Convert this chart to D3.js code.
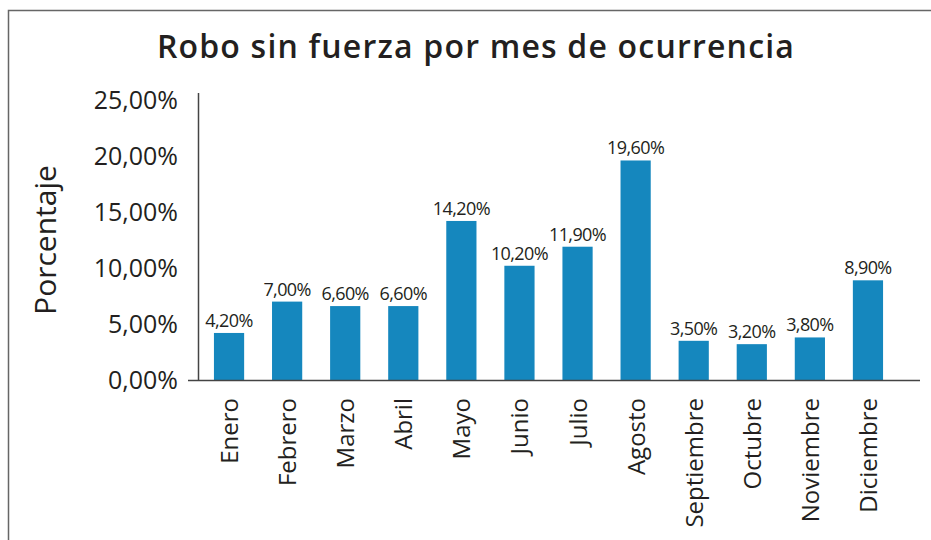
<!DOCTYPE html>
<html>
<head>
<meta charset="utf-8">
<script src="https://cdn.jsdelivr.net/npm/d3@7"></script>
<style>
  body { margin: 0; background: #fff; }
  svg text { font-family: "Open Sans", "Noto Sans", sans-serif; fill: #231f20; }
</style>
</head>
<body>
<div id="chart"></div>
<script>
var months = ['Enero','Febrero','Marzo','Abril','Mayo','Junio','Julio','Agosto','Septiembre','Octubre','Noviembre','Diciembre'];
var values = [4.2, 7.0, 6.6, 6.6, 14.2, 10.2, 11.9, 19.6, 3.5, 3.2, 3.8, 8.9];
var yTicks = [0, 5, 10, 15, 20, 25];

var width = 931, height = 540;
var barColor = '#1587be';

var svg = d3.select('#chart').append('svg')
	.attr('width', width)
	.attr('height', height);

// outer frame (cropped screenshot)
svg.append('path')
	.attr('d', 'M8.5,540 V10.5 H931')
	.attr('fill', 'none')
	.attr('stroke', '#666')
	.attr('stroke-width', 1.5);

var fmt = function(v) { return d3.format('.2f')(v).replace('.', ',') + '%'; };

var x = d3.scaleBand()
	.domain(months)
	.range([200, 897])
	.paddingInner(0.48)
	.paddingOuter(0.24);

var y = d3.scaleLinear()
	.domain([0, 25])
	.range([380, 100]);

svg.append('text')
	.attr('x', 476)
	.attr('y', 58)
	.attr('text-anchor', 'middle')
	.style('font-size', '32px')
	.style('font-weight', 600)
	.style('letter-spacing', '1.2px')
	.text('Robo sin fuerza por mes de ocurrencia');

// y axis
var yAxis = svg.append('g')
	.attr('transform', 'translate(198,0)')
	.call(d3.axisLeft(y).tickValues(yTicks).tickFormat(fmt).tickSize(0).tickPadding(20));
yAxis.select('.domain').attr('d', 'M0.5,' + (y(25) - 7) + 'V' + y(0)).attr('stroke', '#444').attr('stroke-width', 1.5);
yAxis.selectAll('text')
	.style('font-size', '25px')
	.style('font-family', '"Open Sans", sans-serif')
	.attr('fill', '#231f20');

svg.append('text')
	.attr('transform', 'translate(56,240) rotate(-90)')
	.attr('text-anchor', 'middle')
	.style('font-size', '30px')
	.text('Porcentaje');

// bars
svg.selectAll('.bar')
	.data(values)
	.enter().append('rect')
	.attr('class', 'bar')
	.attr('x', function(d, i) { return x(months[i]); })
	.attr('width', x.bandwidth())
	.attr('y', function(d) { return y(d); })
	.attr('height', function(d) { return y(0) - y(d); })
	.attr('fill', barColor);

svg.selectAll('.val')
	.data(values)
	.enter().append('text')
	.attr('class', 'val')
	.attr('x', function(d, i) { return x(months[i]) + x.bandwidth() / 2; })
	.attr('y', function(d) { return y(d) - 6; })
	.attr('text-anchor', 'middle')
	.style('font-size', '18px')
	.style('letter-spacing', '-0.6px')
	.text(fmt);

// baseline
svg.append('line')
	.attr('x1', 188).attr('x2', 920)
	.attr('y1', y(0) + 0.5).attr('y2', y(0) + 0.5)
	.attr('stroke', '#444')
	.attr('stroke-width', 1.5);

// month labels
svg.selectAll('.month')
	.data(months)
	.enter().append('text')
	.attr('class', 'month')
	.attr('transform', function(d) { return 'translate(' + (x(d) + x.bandwidth() / 2 + 9) + ',398) rotate(-90)'; })
	.attr('text-anchor', 'end')
	.style('font-size', '24px')
	.text(function(d) { return d; });
</script>
</body>
</html>
